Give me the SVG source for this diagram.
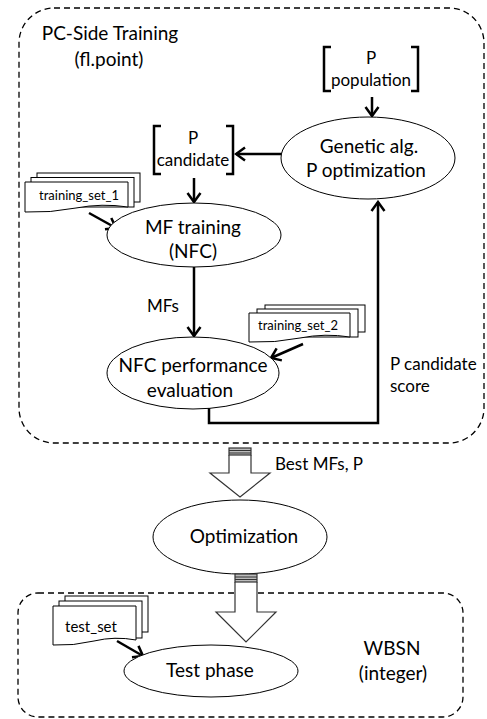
<svg xmlns="http://www.w3.org/2000/svg" width="487" height="719" viewBox="0 0 487 719">
<style>
.bg{fill:#fff}
.box{fill:none;stroke:#000;stroke-width:1.3;stroke-dasharray:6 4}
.ell{fill:#fff;stroke:#000;stroke-width:1}
.doc{fill:#fff;stroke:#000;stroke-width:1}
.br{fill:none;stroke:#000;stroke-width:2.5}
.con{fill:none;stroke:#000;stroke-width:2.5}
.big{fill:#fff;stroke:#333;stroke-width:1.2}
.t{font-family:Lato,"Liberation Sans",sans-serif;fill:#000}
.tl{font-size:19px}
.tm{font-size:17px}
.ts{font-size:13px}
.c{text-anchor:middle}
</style>
<defs>
<marker id="ah" viewBox="-12 -8 14 16" markerWidth="14" markerHeight="16" markerUnits="userSpaceOnUse" refX="0" refY="0" orient="auto">
<path d="M-9,-6.5 L0,0 L-9,6.5" fill="none" stroke="#000" stroke-width="2.5"/>
</marker>
</defs>
<rect class="bg" x="0" y="0" width="487" height="719"/>

<g id="pc-side-box">
<rect class="box" x="19" y="8" width="465" height="435" rx="35" ry="35"/>
<text class="t tl c" x="110" y="40">PC-Side Training</text>
<text class="t tl c" x="109" y="66">(fl.point)</text>
</g>

<g id="wbsn-box">
<rect class="box" x="18" y="593" width="445" height="124" rx="20" ry="20"/>
<text class="t tl c" x="392" y="655">WBSN</text>
<text class="t tl c" x="393" y="680">(integer)</text>
</g>

<g id="connectors">
<path class="con" d="M372,97 V116" marker-end="url(#ah)"/>
<path class="con" d="M282,154 H236" marker-end="url(#ah)"/>
<path class="con" d="M194,178 V202" marker-end="url(#ah)"/>
<path class="con" d="M89,213 L116,228" marker-end="url(#ah)"/>
<path class="con" d="M194,267 V336" marker-end="url(#ah)"/>
<path class="con" d="M303,344 L271,358" marker-end="url(#ah)"/>
<path class="con" d="M209,408 V423 H378 V202" marker-end="url(#ah)"/>
<path class="con" d="M117,641 L143,656" marker-end="url(#ah)"/>
<text class="t tm" x="147" y="312">MFs</text>
<text class="t tm" x="390" y="370">P candidate</text>
<text class="t tm" x="390" y="392">score</text>
<text class="t tm" x="275" y="470">Best MFs, P</text>
</g>

<g id="p-population">
<path class="br" d="M331,47 H324 V91 H331"/>
<path class="br" d="M411,47 H418 V91 H411"/>
<text class="t tm c" x="371" y="64">P</text>
<text class="t tm c" x="371" y="86">population</text>
</g>

<g id="genetic-alg">
<ellipse class="ell" cx="368" cy="158" rx="87" ry="41"/>
<text class="t tl c" x="369" y="153">Genetic alg.</text>
<text class="t tl c" x="366" y="177">P optimization</text>
</g>

<g id="p-candidate">
<path class="br" d="M161,126 H154 V174 H161"/>
<path class="br" d="M226,126 H233 V174 H226"/>
<text class="t tm c" x="193" y="144">P</text>
<text class="t tm c" x="193" y="166">candidate</text>
</g>

<g id="training-set-1">
<rect class="doc" x="37" y="173" width="103" height="29"/>
<rect class="doc" x="31" y="177.5" width="103" height="29.5"/>
<path class="doc" d="M25,182 H128 V207 Q102,203 76,208 T25,212 Z"/>
<text class="t ts c" x="79" y="200">training_set_1</text>
</g>

<g id="mf-training">
<ellipse class="ell" cx="194" cy="235" rx="87" ry="32"/>
<text class="t tl c" x="193" y="234">MF training</text>
<text class="t tl c" x="193" y="258">(NFC)</text>
</g>

<g id="training-set-2">
<rect class="doc" x="265" y="305" width="100" height="27"/>
<rect class="doc" x="257" y="309" width="101" height="28"/>
<path class="doc" d="M249,313 H350 V337 Q325,333 300,338 T249,342 Z"/>
<text class="t ts c" x="298" y="330">training_set_2</text>
</g>

<g id="nfc-evaluation">
<ellipse class="ell" cx="193" cy="373" rx="86" ry="36"/>
<text class="t tl c" x="193" y="372">NFC performance</text>
<text class="t tl c" x="190" y="397">evaluation</text>
</g>

<g id="arrow-best">
<path class="big" d="M229,455 V473 H210 L240,497 L270,473 H251 V455"/>
<rect x="229" y="448" width="22" height="7" fill="#bbb" stroke="#333" stroke-width="1.2"/>
<path d="M229,450.5 H251 M229,453 H251" stroke="#333" stroke-width="1"/>
</g>

<g id="optimization">
<ellipse class="ell" cx="240" cy="537" rx="87" ry="37"/>
<text class="t tl c" x="244" y="543">Optimization</text>
</g>

<g id="arrow-deploy">
<path class="big" d="M235,582 V612 H216 L246,642 L276,612 H257 V582"/>
<rect x="235" y="574" width="22" height="8" fill="#bbb" stroke="#333" stroke-width="1.2"/>
<path d="M235,577 H257 M235,579.5 H257" stroke="#333" stroke-width="1"/>
</g>

<g id="test-set">
<rect class="doc" x="65" y="596" width="83" height="36"/>
<rect class="doc" x="59" y="601" width="83" height="37"/>
<path class="doc" d="M53,606 H136 V640 Q115,636 94,641 T53,645 Z"/>
<text class="t ts c" x="91" y="632" style="font-size:15px">test_set</text>
</g>

<g id="test-phase">
<ellipse class="ell" cx="211" cy="671" rx="87" ry="26"/>
<text class="t tl c" x="210" y="677">Test phase</text>
</g>
</svg>
